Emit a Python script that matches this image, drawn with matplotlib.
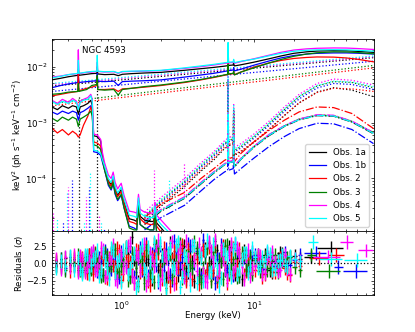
import numpy as np
import matplotlib
matplotlib.use('Agg')
import matplotlib.pyplot as plt
from matplotlib.ticker import AutoMinorLocator

plt.rcParams['font.size'] = 6.2
plt.rcParams['axes.linewidth'] = 0.6
for a in ('xtick', 'ytick'):
    plt.rcParams[a + '.major.size'] = 2.4
    plt.rcParams[a + '.minor.size'] = 1.3
    plt.rcParams[a + '.major.width'] = 0.5
    plt.rcParams[a + '.minor.width'] = 0.5

obs_labels = ['Obs. 1a', 'Obs. 1b', 'Obs. 2', 'Obs. 3', 'Obs. 4', 'Obs. 5']
obs_colors = ['k', 'b', 'r', 'g', 'magenta', 'cyan']

# ---- model curves, units of 1e-3 keV^2 (ph/s/keV/cm2) ----
E_tot = [0.3, 0.35, 0.4, 0.47, 0.475, 0.48, 0.55, 0.6, 0.655, 0.66, 0.665,
         0.75, 0.88, 0.95, 1.02, 1.2, 1.5, 2.0, 3.0, 4.0, 5.0, 6.0,
         6.35, 6.4, 6.45, 7.0, 7.05, 7.1, 7.15, 8.0, 10.0, 13.0, 16.0,
         20.0, 25.0, 30.0, 40.0, 50.0, 60.0, 80.0]
tot_1a = [5.8, 6.2, 6.6, 7.0, 9.0, 7.0, 7.3, 7.5, 7.6, 10.0, 7.4, 7.2, 7.3, 6.9, 7.3, 7.5, 7.7, 7.9,
          8.6, 9.2, 9.7, 10.2, 10.4, 20.0, 10.5, 10.7, 12.0, 10.7, 10.3, 10.8, 12.0, 13.8, 15.5,
          17.3, 18.4, 19.0, 19.3, 19.2, 18.8, 18.0]
tot_1b = [4.2, 4.6, 4.9, 5.2, 7.0, 5.2, 5.4, 5.5, 5.6, 7.5, 5.5, 5.4, 5.5, 4.6, 5.4, 5.5, 5.6, 5.8,
          6.5, 7.1, 7.6, 8.2, 8.4, 14.0, 8.5, 8.7, 9.6, 8.7, 8.4, 9.0, 10.6, 12.6, 14.3,
          15.8, 16.8, 17.3, 17.6, 17.6, 17.4, 16.8]
tot_2 = [3.0, 3.2, 3.4, 3.6, 8.0, 3.7, 4.1, 4.3, 4.6, 6.5, 3.9, 3.9, 4.0, 3.6, 4.0, 4.1, 4.3, 4.6,
         5.2, 5.8, 6.4, 7.0, 7.2, 12.0, 7.3, 7.5, 8.2, 7.5, 7.2, 8.0, 9.8, 11.6, 12.9,
         14.0, 14.6, 14.9, 14.8, 14.3, 13.6, 12.2]
tot_3 = [3.2, 3.3, 3.5, 3.6, 5.0, 3.6, 3.9, 4.6, 4.8, 7.0, 3.9, 3.8, 3.9, 3.1, 3.9, 4.1, 4.4, 4.7,
         5.3, 5.9, 6.5, 7.1, 7.3, 11.0, 7.4, 7.6, 8.3, 7.6, 7.1, 8.0, 9.5, 11.6, 13.4,
         15.3, 16.8, 17.7, 18.4, 18.3, 17.9, 17.0]
tot_4 = [6.5, 6.8, 7.2, 7.5, 20.0, 7.5, 7.9, 8.0, 8.2, 12.0, 8.2, 8.0, 8.1, 7.6, 8.1, 8.2, 8.3, 8.5,
         9.3, 10.0, 10.7, 11.4, 11.6, 24.0, 11.7, 11.9, 12.8, 11.9, 11.5, 12.3, 13.8, 16.0, 18.0,
         19.8, 20.8, 21.3, 21.6, 21.5, 21.1, 20.3]
tot_5 = [6.3, 6.7, 7.2, 7.6, 13.0, 7.6, 8.0, 8.2, 8.3, 16.0, 8.3, 8.1, 8.2, 7.7, 8.2, 8.3, 8.4, 8.6,
         9.5, 10.3, 11.0, 11.7, 11.9, 27.0, 12.0, 12.2, 13.5, 12.2, 11.8, 12.5, 13.6, 15.6, 17.3,
         18.8, 19.6, 20.0, 20.1, 20.0, 19.6, 18.9]

# power-law continuum (dotted), values at 0.3 and 80 keV
E_pl = [0.3, 80.0]
pl_1a = [4.5, 14.5]
pl_1b = [3.6, 12.5]
pl_2 = [2.0, 9.5]
pl_3 = [2.2, 10.5]
pl_4 = [4.8, 15.0]
pl_5 = [5.0, 15.5]

# soft photoionised emission (solid)
E_soft = [0.3, 0.33, 0.36, 0.4, 0.43, 0.46, 0.475, 0.49, 0.52, 0.56, 0.59, 0.605, 0.62,
          0.66, 0.7, 0.72, 0.75, 0.8, 0.84, 0.87, 0.9, 0.94, 1.0, 1.05, 1.15, 1.25, 1.31,
          1.35, 1.39, 1.5, 1.65, 1.76, 1.8, 1.85, 2.0, 2.2, 2.5]
soft_1a = [1.9, 1.7, 2.0, 1.8, 2.0, 1.9, 1.4, 1.9, 2.0, 2.2, 2.5, 2.0, 0.58, 0.56, 0.47, 0.26,
           0.15, 0.09, 0.078, 0.1, 0.066, 0.05, 0.063, 0.038, 0.019, 0.018, 0.017, 0.04, 0.021,
           0.018, 0.017, 0.017, 0.028, 0.016, 0.013, 0.01, 0.008]
soft_1b = [1.55, 1.4, 1.6, 1.45, 1.6, 1.5, 1.1, 1.5, 1.6, 1.8, 2.0, 1.6, 0.3, 0.29, 0.26, 0.2,
           0.14, 0.075, 0.062, 0.08, 0.052, 0.04, 0.05, 0.03, 0.014, 0.013, 0.012, 0.032, 0.015,
           0.013, 0.012, 0.012, 0.022, 0.011, 0.009, 0.007, 0.005]
soft_2 = [0.8, 0.65, 0.75, 0.6, 0.7, 0.62, 0.55, 0.6, 0.9, 1.3, 1.9, 1.5, 0.45, 0.43, 0.38, 0.24,
          0.15, 0.088, 0.072, 0.095, 0.062, 0.047, 0.058, 0.035, 0.017, 0.016, 0.015, 0.037, 0.019,
          0.016, 0.015, 0.015, 0.026, 0.014, 0.011, 0.008, 0.006]
soft_3 = [1.2, 1.05, 1.25, 1.1, 1.25, 1.15, 0.85, 1.15, 1.25, 1.4, 1.6, 1.3, 0.4, 0.38, 0.33, 0.22,
          0.14, 0.08, 0.065, 0.085, 0.055, 0.042, 0.052, 0.03, 0.013, 0.012, 0.012, 0.033, 0.015,
          0.013, 0.012, 0.012, 0.023, 0.011, 0.009, 0.007, 0.005]
soft_4 = [2.5, 2.2, 2.6, 2.3, 2.7, 2.4, 1.8, 2.4, 2.6, 2.8, 3.2, 2.6, 0.62, 0.6, 0.5, 0.3,
          0.19, 0.115, 0.1, 0.13, 0.085, 0.065, 0.082, 0.05, 0.026, 0.025, 0.024, 0.052, 0.028,
          0.025, 0.024, 0.024, 0.037, 0.022, 0.018, 0.014, 0.01]
soft_5 = [2.4, 2.1, 2.4, 2.2, 2.5, 2.3, 1.7, 2.3, 2.5, 2.6, 3.0, 2.4, 0.32, 0.31, 0.28, 0.22,
          0.165, 0.1, 0.085, 0.11, 0.072, 0.055, 0.07, 0.043, 0.022, 0.021, 0.02, 0.045, 0.024,
          0.021, 0.02, 0.02, 0.032, 0.019, 0.015, 0.012, 0.009]

# reflection (dotted) and second reflector (dash-dot)
E_refl = [1.5, 2.0, 3.0, 4.0, 5.0, 6.0, 6.35, 6.4, 6.45, 7.0, 7.05, 7.1, 7.15, 8.0,
          10.0, 13.0, 17.0, 22.0, 30.0, 40.0, 55.0, 80.0]
refl_1a = [0.017, 0.032, 0.071, 0.135, 0.215, 0.34, 0.37, 5.0, 0.38, 0.42, 1.5, 0.42, 0.26, 0.30,
           0.44, 0.74, 1.33, 2.25, 3.5, 4.2, 3.8, 2.9]
refl_1b = [0.020, 0.038, 0.083, 0.158, 0.25, 0.40, 0.44, 6.0, 0.45, 0.49, 1.7, 0.49, 0.30, 0.35,
           0.52, 0.88, 1.58, 2.65, 4.15, 5.0, 4.8, 3.9]
refl_2 = [0.019, 0.035, 0.076, 0.144, 0.23, 0.36, 0.39, 5.0, 0.40, 0.44, 1.5, 0.44, 0.27, 0.31,
          0.45, 0.76, 1.35, 2.25, 3.45, 4.1, 4.0, 3.6]
refl_3 = [0.021, 0.040, 0.088, 0.168, 0.27, 0.42, 0.46, 6.0, 0.47, 0.52, 1.8, 0.52, 0.32, 0.37,
          0.55, 0.94, 1.7, 2.9, 4.5, 5.4, 5.2, 4.2]
refl_4 = [0.025, 0.046, 0.10, 0.19, 0.30, 0.47, 0.52, 8.0, 0.53, 0.58, 2.2, 0.58, 0.36, 0.42,
          0.62, 1.05, 1.9, 3.2, 5.0, 6.0, 5.7, 4.7]
refl_5 = [0.022, 0.042, 0.092, 0.175, 0.28, 0.44, 0.48, 7.0, 0.49, 0.54, 2.0, 0.54, 0.33, 0.39,
          0.57, 0.97, 1.75, 2.95, 4.6, 5.5, 5.3, 4.4]
dd_1a = [0.015, 0.026, 0.044, 0.08, 0.125, 0.175, 0.19, 1.4, 0.19, 0.2, 0.55, 0.2, 0.16, 0.22,
         0.36, 0.58, 0.85, 1.12, 1.33, 1.3, 1.02, 0.63]
dd_1b = [0.012, 0.020, 0.033, 0.060, 0.095, 0.13, 0.14, 1.0, 0.14, 0.15, 0.4, 0.15, 0.12, 0.15,
         0.23, 0.37, 0.56, 0.78, 0.97, 0.95, 0.75, 0.42]
dd_2 = [0.02, 0.035, 0.056, 0.1, 0.15, 0.21, 0.225, 1.6, 0.225, 0.24, 0.65, 0.24, 0.2, 0.28,
        0.45, 0.72, 1.1, 1.55, 1.9, 1.85, 1.45, 0.78]
dd_3 = [0.016, 0.027, 0.046, 0.083, 0.13, 0.18, 0.195, 1.4, 0.195, 0.205, 0.55, 0.205, 0.165, 0.225,
        0.37, 0.6, 0.87, 1.15, 1.36, 1.33, 1.05, 0.66]
dd_4 = [0.017, 0.028, 0.047, 0.085, 0.132, 0.183, 0.2, 1.5, 0.2, 0.21, 0.6, 0.21, 0.168, 0.23,
        0.375, 0.61, 0.88, 1.16, 1.38, 1.35, 1.06, 0.66]
dd_5 = [0.016, 0.027, 0.045, 0.082, 0.128, 0.178, 0.19, 1.4, 0.19, 0.2, 0.55, 0.2, 0.163, 0.222,
        0.365, 0.59, 0.86, 1.13, 1.34, 1.31, 1.03, 0.64]

# narrow emission lines in the dotted components
line_E = [0.306, 0.33, 0.366, 0.392, 0.40, 0.427, 0.52, 0.545, 0.574, 0.584, 0.68, 0.707, 0.745,
          1.77, 2.3, 3.0]
line_lo = [0.01] * 13 + [0.015, 0.03, 0.05]
line_hi = [0.0245, 0.0195, 0.0165, 0.055, 0.069, 0.093, 0.0165, 0.046, 0.069, 0.13, 0.022, 0.0165,
           0.013, 0.14, 0.093, 0.186]
line_col = ['magenta', 'cyan', 'b', 'cyan', 'magenta', 'b', 'cyan', 'magenta', 'b', 'cyan',
            'magenta', 'cyan', 'b', 'magenta', 'cyan', 'magenta']
black_E = [0.477, 0.66]
black_hi = [3.1, 3.8]

# ---- residuals (sigma) ----
E_lo = [0.32, 0.35, 0.38, 0.41, 0.44, 0.47, 0.51, 0.55, 0.59, 0.63, 0.68, 0.73, 0.78, 0.84,
        0.9, 0.97, 1.04, 1.12, 1.2, 1.29, 1.38, 1.48, 1.59, 1.7, 1.82, 1.95, 2.1, 2.25, 2.4,
        2.6, 2.8, 3.0, 3.2, 3.45, 3.7, 4.0, 4.3, 4.6, 4.95, 5.3, 5.7, 6.1, 6.55, 7.0, 7.5,
        8.1, 8.7, 9.4]
res_1a = [0.3, -0.5, 0.8, -0.2, 0.6, -0.9, 0.4, 1.1, -0.7, 0.2, -1.3, 0.9, -0.4, 1.6, -1.1, 0.5,
          -0.3, 1.4, 3.8, 0.2, 1.7, -1.5, 0.6, -2.2, 2.3, -0.4, 1.0, -1.9, 0.7, 1.8, -0.8, 2.5,
          -1.2, 0.3, 1.5, -1.7, 2.1, 0.1, -1.4, 1.9, 0.4, -0.9, 2.4, -1.6, 0.8, -2.3, 1.2, -0.5]
res_1b = [-0.2, 0.6, -0.7, 0.9, -0.4, 0.3, -1.0, 0.7, 1.2, -0.5, 0.8, -1.6, 1.3, -0.8, 0.4, -2.0,
          1.1, -0.6, 0.9, -1.3, 2.2, 0.5, -1.8, 1.4, -0.3, 2.6, -1.0, 0.7, -2.4, 1.6, 0.2, -1.1,
          2.9, -0.6, 1.8, -2.1, 0.9, 3.0, -1.3, 0.6, 2.7, -0.8, 1.3, -1.7, 2.0, 0.4, -1.0, 1.1]
res_2 = [0.5, -0.3, 0.2, -1.1, 1.0, -0.6, 0.8, -1.4, 0.3, 1.5, -0.9, 0.6, -2.1, 1.2, -0.5, 1.9,
         -1.5, 0.4, -0.8, 2.0, -1.2, 1.1, -2.5, 0.9, 1.7, -1.0, 2.3, -1.9, 0.5, -2.8, 1.4, -0.2,
         2.1, -2.3, 0.7, 1.3, -1.8, 2.4, -0.9, -2.6, 1.6, 0.3, -1.5, 2.2, -0.4, 1.0, -1.1, 0.6]
res_3 = [-0.4, 0.7, -0.9, 0.5, -0.2, 1.2, -1.3, 0.4, -0.8, 1.4, 0.2, -1.7, 0.9, -0.3, 2.0, -1.1,
         0.6, -2.4, 1.5, -0.7, 0.3, -2.9, 1.8, -0.4, 2.6, -1.6, 0.8, 1.3, -2.0, 0.4, 2.8, -1.4,
         0.9, -0.6, 2.2, -2.7, 1.1, -0.3, 1.7, -1.9, 0.5, 2.5, -1.2, 0.7, -2.0, 1.5, -0.8, 0.9]
res_4 = [0.6, -0.8, 1.0, -0.5, 1.3, -1.2, 0.7, -0.4, 1.6, -1.0, 0.3, 2.0, -1.5, 0.8, -2.2, 1.1,
         -0.6, 2.6, -1.8, 1.4, -0.9, 2.9, -2.3, 0.5, 1.9, -3.0, 1.2, -1.4, 3.2, -0.7, 2.4, -2.0,
         0.6, 2.7, -1.1, 1.5, -2.5, 3.1, 0.2, -1.6, 2.0, -0.8, 1.7, -1.3, 2.3, -0.5, 1.1, -1.9]
res_5 = [-0.6, 0.4, -0.3, 1.1, -0.9, 0.8, -1.5, 1.3, -0.2, 0.9, -1.8, 1.6, -0.7, 2.2, -1.2, 0.5,
         2.0, -1.6, 0.3, -3.6, 1.7, -0.8, 2.4, -1.9, 0.6, 3.0, -2.2, 1.5, -0.4, 2.7, -3.4, 1.2,
         -1.0, 2.5, -2.8, 0.8, 1.9, -1.3, 2.8, -0.6, -2.1, 1.4, -0.9, 2.1, -1.5, 0.7, 1.6, -0.3]

# second, interleaved set of fine bins
E_lo2 = [0.49, 0.53, 0.57, 0.61, 0.655, 0.705, 0.755, 0.81, 0.87, 0.935,
         1.005, 1.08, 1.16, 1.245, 1.335, 1.43, 1.535, 1.645, 1.76, 1.885,
         2.02, 2.17, 2.32, 2.5, 2.7, 2.9, 3.1, 3.32, 3.57, 3.85,
         4.15, 4.45, 4.78, 5.12, 5.5, 5.9, 6.32, 6.78, 7.25, 7.8,
         8.4, 9.05, 9.7, 10.7, 11.6, 12.6, 13.8, 15.1, 16.4, 17.9]
res2_1a = [0.6, -0.9, 1.2, -0.4, 0.9, -1.6, 1.4, -0.3, 2.0, -1.2, 0.5, 2.3, -1.8, 0.7, -2.6, 1.5,
           0.2, -1.4, 2.8, -0.9, 1.3, -2.1, 3.0, 0.4, -1.7, 2.2, -0.6, 1.8, -2.5, 0.9, 2.6, -1.3,
           0.3, 3.2, -2.0, 1.1, -0.7, 2.4, -1.5, 0.8, 1.9, -1.1, 0.5, 1.3, -0.8, 0.9, -1.2, 0.6,
           1.4, -0.3]
res2_1b = [-0.7, 1.0, -0.5, 1.5, -1.1, 0.3, 1.8, -1.4, 0.6, -2.2, 1.7, -0.2, 2.5, -1.9, 0.8, -1.0,
           2.9, -0.5, 1.2, -2.7, 0.4, 2.1, -1.6, 3.3, -0.8, 1.0, -2.3, 2.6, 0.1, -1.5, 3.4, -0.9,
           1.6, -2.8, 0.7, 2.3, -1.2, 0.2, 2.8, -1.8, 0.9, -0.4, 1.7, 0.3, -1.0, 1.5, 0.6, -0.7,
           1.1, 0.2]
res2_2 = [0.9, -0.6, 1.3, -1.5, 0.4, 1.7, -2.0, 0.8, -0.3, 2.2, -2.4, 1.0, 0.3, -2.8, 1.9, -0.7,
          2.4, -3.1, 0.6, 1.5, -2.2, 0.9, -3.3, 1.8, -0.5, 2.7, -2.6, 0.4, 1.2, -3.0, 2.0, -0.8,
          -2.1, 1.6, -1.4, 2.5, -2.9, 0.7, -0.9, 2.1, -1.7, 0.5, -1.3, 0.8, -2.0, 0.4, -1.1, -0.6,
          0.9, -1.4]
res2_3 = [-1.0, 0.5, -1.4, 1.1, 0.2, -1.8, 1.6, -0.6, 2.1, -1.3, -0.4, 2.4, -2.0, 1.3, -3.2, 0.7,
          1.9, -1.2, -2.7, 2.3, 0.5, -3.5, 1.4, -0.9, 2.8, -2.1, 1.1, -0.2, 3.1, -1.8, -0.6, 2.2,
          -2.6, 1.3, 0.4, -2.3, 2.7, -1.0, 0.6, -1.9, 1.4, -0.5, -1.6, 1.1, 0.3, -0.9, 1.2, -1.3,
          0.4, 0.8]
res2_4 = [1.1, -1.3, 0.4, 1.9, -0.8, 2.3, -1.9, 0.6, 2.7, -2.5, 1.2, -0.5, 3.0, -2.8, 0.9, 2.2,
          -3.2, 1.6, -0.4, 3.4, -1.7, 0.8, 2.6, -3.0, 1.4, -0.9, 3.3, -2.2, 0.5, 2.9, -1.4, -2.7,
          1.8, 3.5, -1.0, 0.6, -2.4, 2.8, -0.3, 1.5, -2.2, 2.0, -0.7, 1.2, -1.6, 0.8, 1.7, -1.1,
          0.5, -0.8]
res2_5 = [-0.8, 1.2, -1.6, 0.7, 2.0, -1.1, 0.4, -2.3, 1.8, 0.3, -2.7, 2.4, -0.6, 1.5, -3.0, 2.7,
          -1.3, 0.2, 3.1, -2.4, 1.0, -3.8, 2.2, -0.7, 3.2, -1.9, 0.8, -3.1, 2.6, 1.3, -2.5, 3.4,
          -1.2, 0.5, -3.3, 2.1, 0.9, -2.0, 3.0, -0.8, 1.6, -1.4, 2.3, -0.6, 0.9, 1.8, -0.9, 0.4,
          1.2, -0.5]

E_mid = [10.2, 11.1, 12.1, 13.2, 14.4, 15.7, 17.1, 18.7, 20.4, 22.3]
mid_1a = [0.8, -0.5, 1.2, -1.0, 0.4, 1.5, -0.3, 0.9, 1.1, 0.6]
mid_1b = [1.3, 0.2, -0.8, 1.0, -0.4, 0.7, 1.6, -0.2, 0.5, 1.2]
mid_2 = [-0.9, 0.6, -1.5, 0.3, -1.2, 0.8, -0.6, -1.7, 0.2, -0.4]
mid_3 = [0.5, -1.1, 0.9, -0.7, 1.3, -0.2, 0.6, 1.0, -0.5, -1.0]
mid_4 = [-0.3, 1.1, -1.4, 0.6, 0.2, -0.9, 1.2, -1.5, 0.7, 0.4]
mid_5 = [0.9, -0.4, 0.3, 1.4, -0.8, 0.5, -0.2, 1.1, 0.6, 0.3]

# wide high-energy bins: lower edge, upper edge, residual
hi_lo_1a, hi_hi_1a, hi_r_1a = [24.0, 30.0], [30.0, 47.0], [1.0, 2.2]
hi_lo_1b, hi_hi_1b, hi_r_1b = [24.0, 40.0, 47.0], [35.0, 47.0, 72.0], [1.5, -0.5, -1.1]
hi_lo_2, hi_hi_2, hi_r_2 = [26.0, 36.0], [36.0, 48.0], [0.8, 1.2]
hi_lo_3, hi_hi_3, hi_r_3 = [25.0, 29.5], [29.5, 45.0], [1.3, -1.1]
hi_lo_4, hi_hi_4, hi_r_4 = [28.0, 45.0, 61.0], [45.0, 56.0, 79.0], [1.0, 3.1, 1.9]
hi_lo_5, hi_hi_5, hi_r_5 = [25.5, 31.0, 48.0], [30.5, 46.0, 72.0], [3.1, 0.6, 0.5]

totals = [tot_1a, tot_1b, tot_2, tot_3, tot_4, tot_5]
plaws = [pl_1a, pl_1b, pl_2, pl_3, pl_4, pl_5]
softs = [soft_1a, soft_1b, soft_2, soft_3, soft_4, soft_5]
refls = [refl_1a, refl_1b, refl_2, refl_3, refl_4, refl_5]
dds = [dd_1a, dd_1b, dd_2, dd_3, dd_4, dd_5]
res_lo = [res_1a, res_1b, res_2, res_3, res_4, res_5]
res_lo2 = [res2_1a, res2_1b, res2_2, res2_3, res2_4, res2_5]
res_mid = [mid_1a, mid_1b, mid_2, mid_3, mid_4, mid_5]
res_hi = [(hi_lo_1a, hi_hi_1a, hi_r_1a), (hi_lo_1b, hi_hi_1b, hi_r_1b), (hi_lo_2, hi_hi_2, hi_r_2),
          (hi_lo_3, hi_hi_3, hi_r_3), (hi_lo_4, hi_hi_4, hi_r_4), (hi_lo_5, hi_hi_5, hi_r_5)]

fig = plt.figure(figsize=(4.15, 3.32), dpi=100)
gs = fig.add_gridspec(2, 1, height_ratios=[3, 1], hspace=0,
                      left=0.125, right=0.9, top=0.882, bottom=0.111)
ax = fig.add_subplot(gs[0])
ax2 = fig.add_subplot(gs[1], sharex=ax)

scale = 1e-3
lw = 0.9

# emission-line spikes
for e, lo, hi, c in zip(line_E, line_lo, line_hi, line_col):
    ax.plot([e, e], [lo * scale, hi * scale], color=c, ls=':', lw=lw)
for e, hi in zip(black_E, black_hi):
    ax.plot([e, e], [0.01 * scale, hi * scale], color='k', ls=':', lw=lw)

for i, c in enumerate(obs_colors):
    ax.plot(E_pl, np.array(plaws[i]) * scale, color=c, ls=':', lw=lw)
    ax.plot(E_refl, np.array(refls[i]) * scale, color=c, ls=':', lw=lw)
    ax.plot(E_refl, np.array(dds[i]) * scale, color=c, ls='-.', lw=lw)

handles = []
for i, c in enumerate(obs_colors):
    ax.plot(E_soft, np.array(softs[i]) * scale, color=c, ls='-', lw=lw)
    h, = ax.plot(E_tot, np.array(totals[i]) * scale, color=c, ls='-', lw=lw,
                 label=obs_labels[i])
    handles.append(h)

ax.set_xscale('log')
ax.set_yscale('log')
ax.set_xlim(0.3, 80)
ax.set_ylim(1.14e-5, 3.1e-2)
ax.set_ylabel('keV$^2$ (ph s$^{-1}$ keV$^{-1}$ cm$^{-2}$)')
ax.text(0.093, 0.943, 'NGC 4593', transform=ax.transAxes, ha='left', va='center')
ax.legend(handles=handles, loc='lower right', fontsize=6.2)
ax.tick_params(which='both', direction='in', top=True, right=True, labelbottom=False)

# residuals
ekw = dict(fmt='none', elinewidth=1.0)
for i, c in enumerate(obs_colors):
    e = np.array(E_lo)
    ax2.errorbar(e, res_lo[i], yerr=1, xerr=e * 0.018, ecolor=c, **ekw)
    e = np.array(E_lo2)
    ax2.errorbar(e, res_lo2[i], yerr=1, xerr=e * 0.018, ecolor=c, **ekw)
    e = np.array(E_mid)
    ax2.errorbar(e, res_mid[i], yerr=1, xerr=e * 0.04, ecolor=c, **ekw)
    lo, hi, r = res_hi[i]
    lo, hi = np.array(lo), np.array(hi)
    mid = (lo + hi) / 2
    ax2.errorbar(mid, r, yerr=1, xerr=[mid - lo, hi - mid], ecolor=c, **ekw)
ax2.axhline(0, color='k', ls=':', lw=0.9, zorder=5)

ax2.set_ylim(-4.6, 4.7)
ax2.set_yticks([-2.5, 0.0, 2.5])
ax2.yaxis.set_minor_locator(AutoMinorLocator(5))
ax2.set_xlabel('Energy (keV)', labelpad=-1)
ax2.set_ylabel(r'Residuals ($\sigma$)')
ax2.tick_params(which='both', direction='in', top=True, right=True)

ax.yaxis.set_label_coords(-0.085, 0.5)
ax2.yaxis.set_label_coords(-0.085, 0.5)

fig.savefig('out.png', dpi=100)
